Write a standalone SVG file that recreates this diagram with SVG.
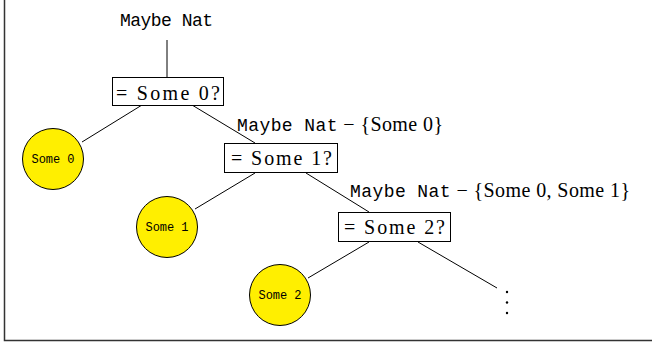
<svg xmlns="http://www.w3.org/2000/svg" width="652" height="345" viewBox="0 0 652 345">
<style>
.lbl{font-size:20px;fill:#000;font-family:"Liberation Serif","DejaVu Serif",serif;}
.tt{font-family:"Liberation Mono","DejaVu Sans Mono",monospace;font-size:18px;}
.box{fill:#fff;stroke:#000;stroke-width:1;}
.leaf{fill:#ffef00;stroke:#000;stroke-width:1;}
.leaft{font-family:"Liberation Mono","DejaVu Sans Mono",monospace;font-size:12px;text-anchor:middle;}
.edge{stroke:#000;stroke-width:1;fill:none;}
</style>
<rect width="652" height="345" fill="#fff"/>
<path d="M4.5 0 V340.5 H652" fill="none" stroke="#333" stroke-width="1.5"/>
<g id="connectors">
<line class="edge" x1="167" y1="40" x2="167" y2="77"/>
<line class="edge" x1="142" y1="105" x2="82" y2="142"/>
<line class="edge" x1="192" y1="105" x2="255" y2="143"/>
<line class="edge" x1="255" y1="173" x2="195" y2="209"/>
<line class="edge" x1="306" y1="173" x2="369" y2="212"/>
<line class="edge" x1="369" y1="242" x2="308" y2="278"/>
<line class="edge" x1="418" y1="242" x2="497" y2="288"/>
</g>
<g id="root">
<text class="tt" x="120" y="26" textLength="93">Maybe Nat</text>
</g>
<g id="q0">
<rect class="box" x="112.5" y="77.5" width="111" height="28"/>
<text class="lbl" x="116" y="100" textLength="104">= Some 0?</text>
</g>
<g id="some0">
<circle class="leaf" cx="53" cy="159" r="30.5"/>
<text class="leaft" x="53" y="163" textLength="43">Some 0</text>
</g>
<g id="label1">
<text class="lbl" x="237" y="131" textLength="206"><tspan class="tt">Maybe Nat</tspan> − {Some 0}</text>
</g>
<g id="q1">
<rect class="box" x="224.5" y="143.5" width="113" height="29"/>
<text class="lbl" x="231" y="165" textLength="101">= Some 1?</text>
</g>
<g id="some1">
<circle class="leaf" cx="167" cy="227" r="30.5"/>
<text class="leaft" x="167" y="231" textLength="43">Some 1</text>
</g>
<g id="label2">
<text class="lbl" x="350" y="197" textLength="280"><tspan class="tt">Maybe Nat</tspan> − {Some 0, Some 1}</text>
</g>
<g id="q2">
<rect class="box" x="338.5" y="212.5" width="112" height="29"/>
<text class="lbl" x="344" y="234" textLength="101">= Some 2?</text>
</g>
<g id="some2">
<circle class="leaf" cx="280" cy="295" r="30.5"/>
<text class="leaft" x="280" y="299" textLength="43">Some 2</text>
</g>
<g id="dots">
<circle cx="507" cy="292" r="1.2" fill="#000"/>
<circle cx="507" cy="302.5" r="1.2" fill="#000"/>
<circle cx="507" cy="313" r="1.2" fill="#000"/>
</g>
</svg>
